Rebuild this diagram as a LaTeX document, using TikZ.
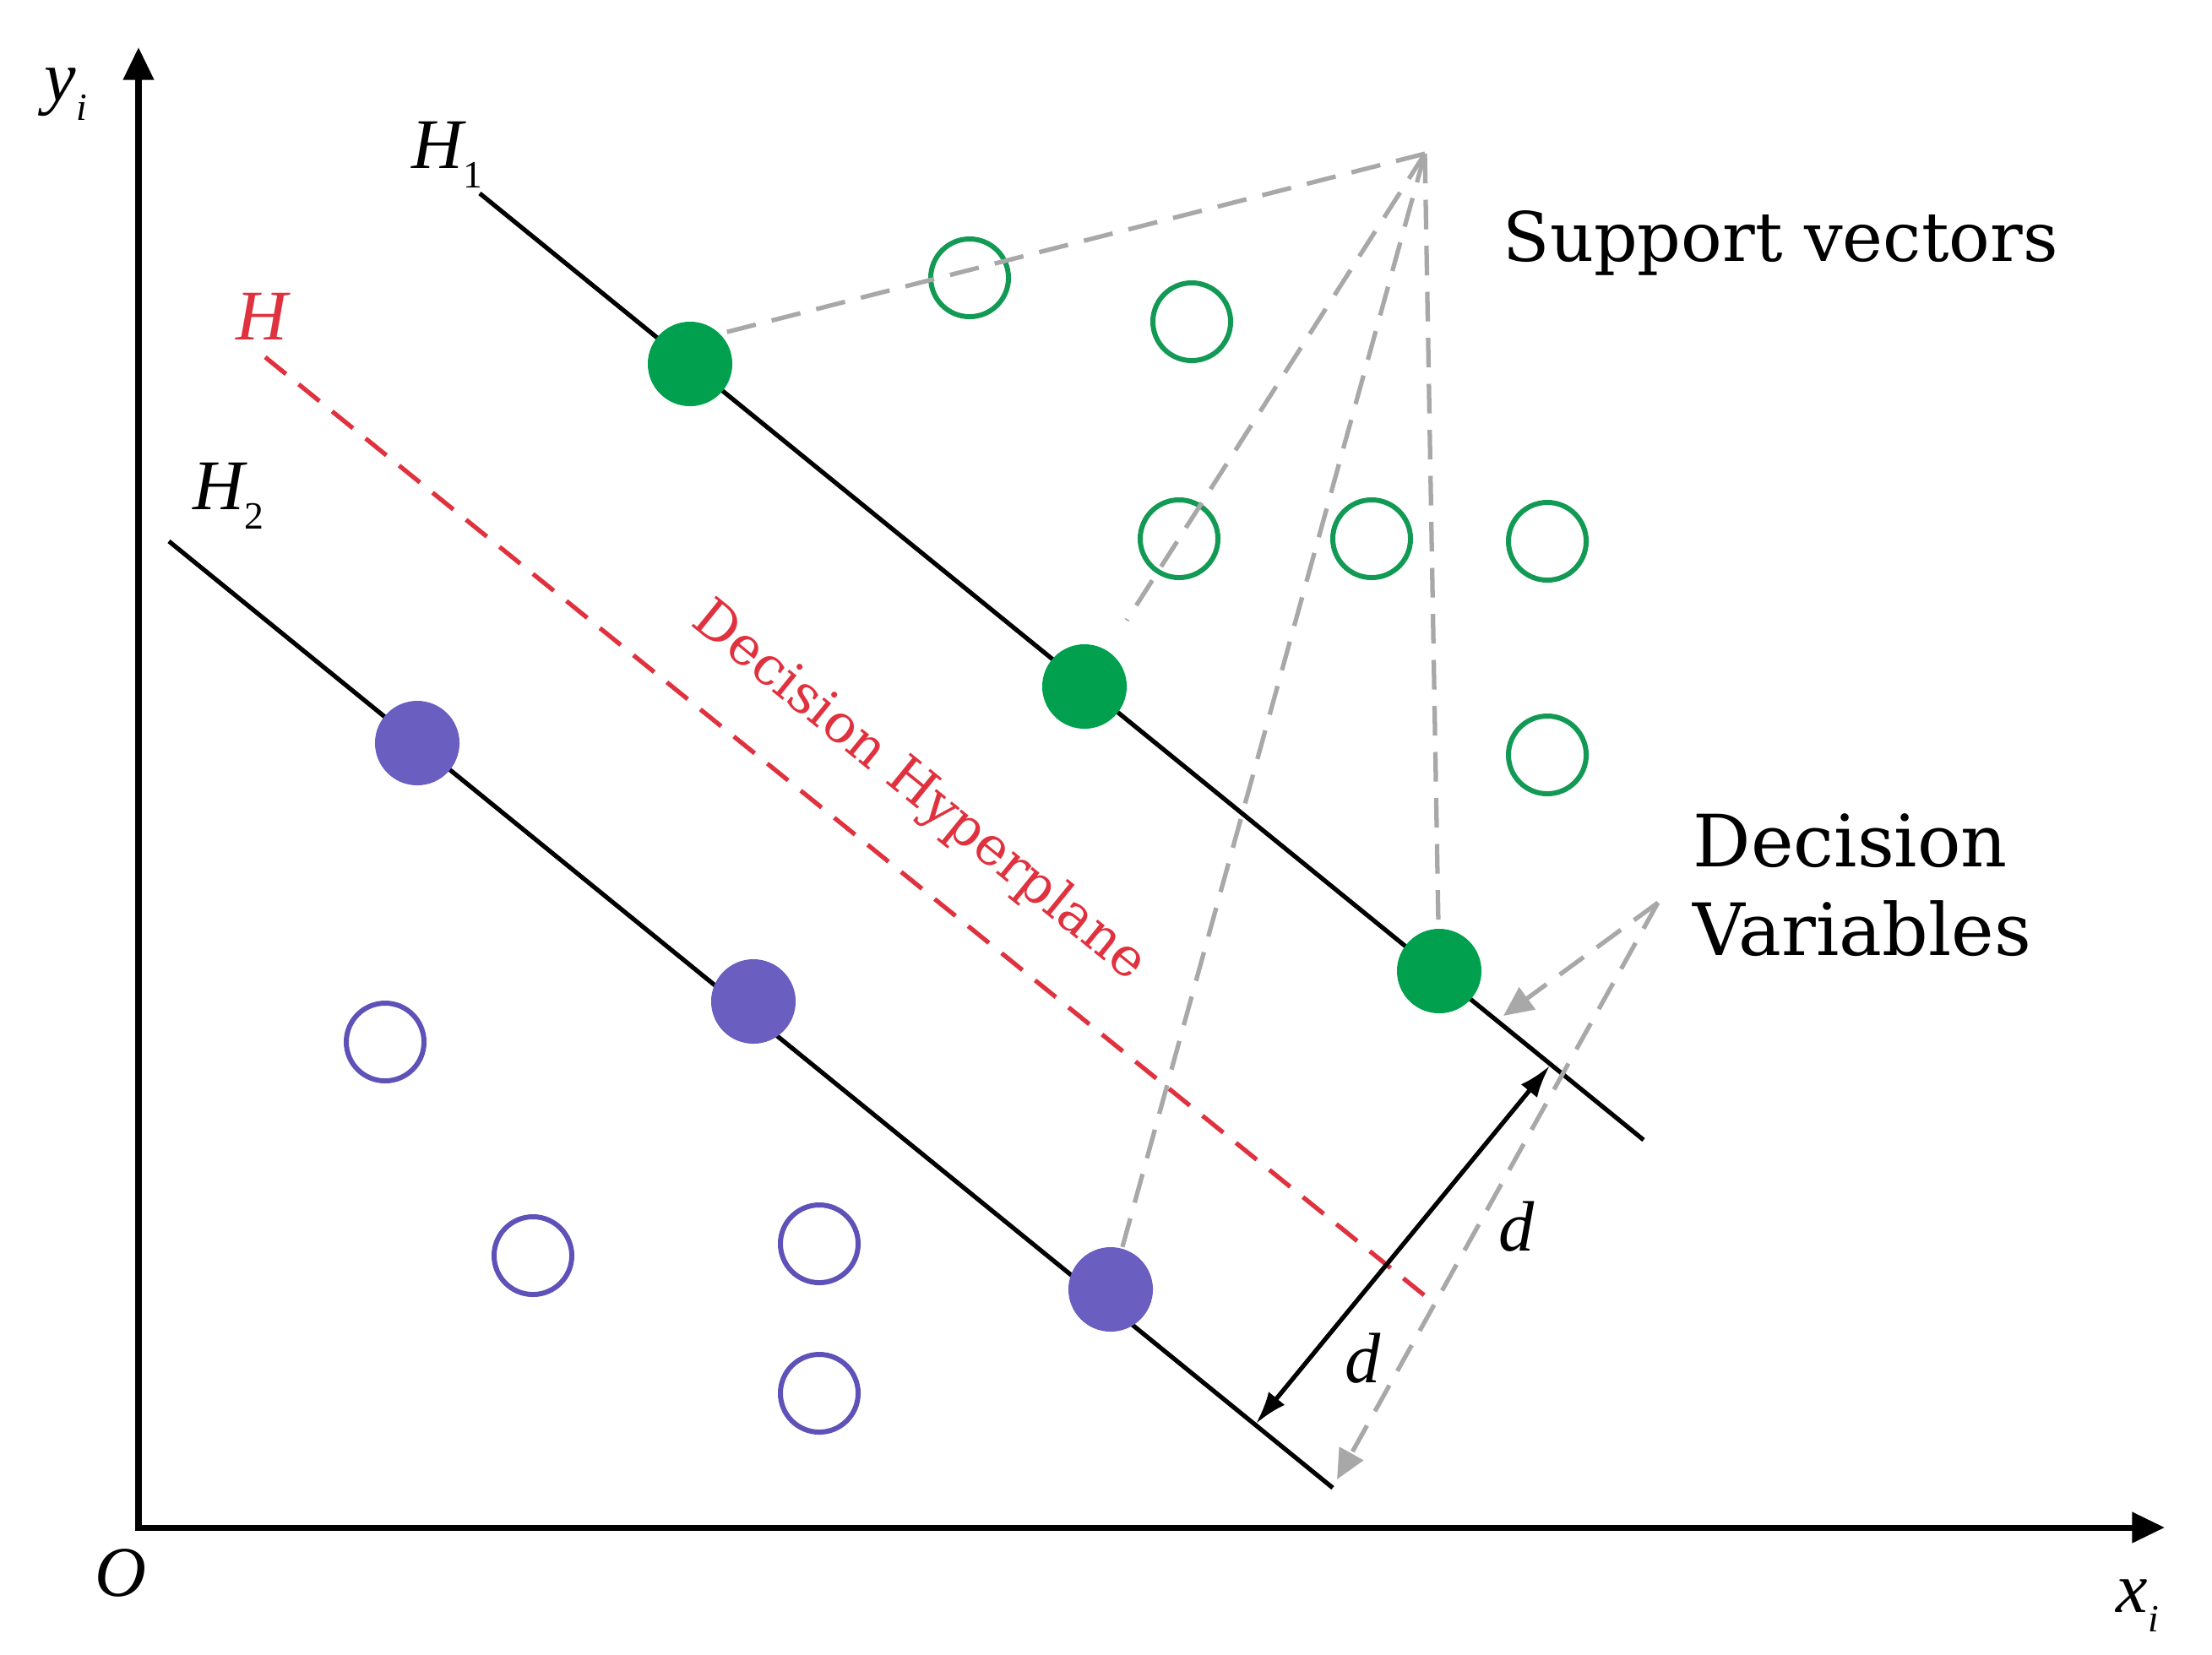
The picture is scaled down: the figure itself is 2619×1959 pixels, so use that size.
\documentclass[tikz,border=0pt]{standalone}
\usepackage{fontspec}
\newfontfamily\lib{Liberation Serif}
\newfontfamily\dvs{DejaVu Serif}
\usetikzlibrary{arrows.meta}
\definecolor{sgreen}{HTML}{00A04E}
\definecolor{ogreen}{HTML}{129A55}
\definecolor{spurple}{HTML}{6A5EC0}
\definecolor{opurple}{HTML}{5E52B8}
\definecolor{hred}{HTML}{E0323E}
\definecolor{dgray}{HTML}{A8A8A8}
\tikzset{
  axisline/.style={line width=2pt, {Triangle[length=11pt,width=10pt]}-{Triangle[length=11pt,width=10pt]}},
  hplane/.style={line width=1.5pt},
  midplane/.style={hred, line width=1.5pt, dash pattern=on 9pt off 5.5pt},
  gdash/.style={dgray, line width=1.5pt, dash pattern=on 10pt off 5.5pt},
  gtip/.style={-{Triangle[length=10pt,width=9pt]}},
  gfilled/.style={circle, fill=sgreen, minimum size=1cm, inner sep=0pt},
  pfilled/.style={circle, fill=spurple, minimum size=1cm, inner sep=0pt},
  gopen/.style={circle, draw=ogreen, line width=1.7pt, minimum size=0.92cm, inner sep=0pt},
  popen/.style={circle, draw=opurple, line width=1.7pt, minimum size=0.92cm, inner sep=0pt},
  lbl/.style={inner sep=0pt, anchor=base west, font=\lib\itshape\fontsize{24}{28}\selectfont},
  txt/.style={inner sep=0pt, anchor=base west, font=\dvs\fontsize{24.3}{29.6}\selectfont, align=left},
}
\newcommand\sbs[1]{\raisebox{-0.28em}{\fontsize{13}{13}\selectfont #1}}
\begin{document}
\begin{tikzpicture}[x=0.01cm,y=-0.01cm]
\useasboundingbox (0,0) rectangle (2619,1959);
% axes
\coordinate (O) at (164,1809);
\coordinate (ytip) at (164,56);
\coordinate (xtip) at (2563,1809);
\draw[axisline] (ytip) -- (O) -- (xtip);
% hyperplanes
\coordinate (h1a) at (568,229);  \coordinate (h1b) at (1946,1350);
\coordinate (ha) at (314,423);   \coordinate (hb) at (1700,1545);
\coordinate (h2a) at (200,641);  \coordinate (h2b) at (1578,1762);
\draw[hplane] (h1a) -- (h1b);
\draw[hplane] (h2a) -- (h2b);
\draw[midplane] (ha) -- (hb);
% labels
\node[lbl] (ly) at (52,119) {y\sbs{\itshape i}};
\node[lbl] (lo) at (112,1890) {O};
\node[lbl] (lx) at (2505,1909) {x\sbs{\itshape i}};
\node[lbl] (lh1) at (487,199) {H\sbs{\upshape 1}};
\node[lbl, text=hred] (lh) at (279,402) {H};
\node[lbl] (lh2) at (228,603) {H\sbs{\upshape 2}};
\node[lbl] (ld1) at (1774,1481) {d};
\node[lbl] (ld2) at (1592,1637) {d};
% points
\node[gfilled] (g1) at (817,431) {};
\node[gfilled] (g2) at (1284,813) {};
\node[gfilled] (g3) at (1704,1150) {};
\node[pfilled] (p1) at (494,880) {};
\node[pfilled] (p2) at (892,1186) {};
\node[pfilled] (p3) at (1315,1527) {};
\node[gopen] (o1) at (1148,329) {};
\node[gopen] (o2) at (1411,381) {};
\node[gopen] (o3) at (1396,638) {};
\node[gopen] (o4) at (1624,638) {};
\node[gopen] (o5) at (1832,641) {};
\node[gopen] (o6) at (1832,894) {};
\node[popen] (q1) at (456,1234) {};
\node[popen] (q2) at (631,1487) {};
\node[popen] (q3) at (970,1473) {};
\node[popen] (q4) at (970,1650) {};
% texts
\node[txt, font=\dvs\fontsize{23}{27}\selectfont] (sv) at (1779,309) {Support vectors};
\node[txt] (dv) at (2004,1131) {Decision\\Variables};
\node[inner sep=0pt, text=hred, font=\dvs\fontsize{18}{22}\selectfont, rotate=-39.1] (dh) at (1088,938) {Decision Hyperplane};
% support vector pointers
\coordinate (sva) at (1687,182);
\draw[gdash] (sva) -- (g1.45);
\draw[gdash, shorten >=12pt] (sva) -- (g2);
\draw[gdash] (sva) -- (p3);
\draw[gdash] (sva) -- (g3);
% decision variable pointers
\coordinate (dva) at (1963,1069);
\coordinate (dvt1) at (1780,1203);
\coordinate (dvt2) at (1583,1752);
\draw[gdash, gtip] (dva) -- (dvt1);
\draw[gdash, gtip] (dva) -- (dvt2);
% margin arrow
\coordinate (da) at (1835,1262);
\coordinate (db) at (1487,1686);
\draw[line width=1.5pt, {Latex[length=11pt,width=7pt]}-{Latex[length=11pt,width=7pt]}] (db) -- (da);
\end{tikzpicture}
\end{document}
